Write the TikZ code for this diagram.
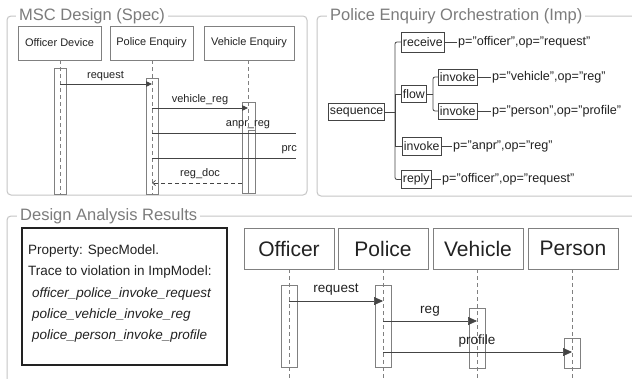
\documentclass[tikz,border=0pt]{standalone}
\usepackage{fontspec}
\setmainfont{Liberation Sans}
\usetikzlibrary{arrows.meta}
\definecolor{framec}{HTML}{C6C6C6}
\definecolor{titlec}{HTML}{7C7C7C}
\definecolor{linec}{HTML}{808080}
\definecolor{inkc}{HTML}{222222}
\definecolor{treec}{HTML}{444444}

\begin{document}
\begin{tikzpicture}[x=1pt,y=-1pt,
  frame/.style={draw=framec, line width=1pt, rounded corners=4pt},
  frametitle/.style={fill=white, text=titlec, anchor=west, inner xsep=3pt, inner ysep=1pt,
    font=\fontsize{16.5}{18}\selectfont},
  actor/.style={draw=linec, line width=0.8pt, text=inkc, inner sep=0pt},
  lifeline/.style={draw=linec, line width=0.7pt, dash pattern=on 4pt off 3pt},
  actbox/.style={draw=linec, line width=0.7pt, inner sep=0pt},
  msg/.style={draw=treec, line width=0.7pt},
  smalltip/.style={-{Triangle[length=6pt,width=5.5pt]}},
  bigtip/.style={-{Triangle[length=9pt,width=8pt]}},
  mlabel/.style={text=inkc, inner sep=0pt, font=\fontsize{11}{12}\selectfont},
  blabel/.style={text=inkc, inner sep=0pt, font=\fontsize{13.5}{15}\selectfont},
  tbox/.style={draw=treec, line width=0.9pt, text=inkc, inner xsep=1.5pt, inner ysep=0pt,
    minimum height=17pt, anchor=west, font=\fontsize{12.3}{13}\selectfont},
  tline/.style={draw=treec, line width=0.8pt},
  plabel/.style={text=inkc, anchor=west, inner xsep=1pt, inner ysep=0pt,
    font=\fontsize{12.6}{14}\selectfont},
  prop/.style={text=inkc, anchor=base west, inner sep=0pt, font=\fontsize{13.5}{15}\selectfont}
]
\useasboundingbox (0,0) rectangle (632,378);
\clip (0,0) rectangle (632,378);
\fill[white] (0,0) rectangle (632,378);

% ---------- MSC Design (Spec) ----------
\draw[frame] (7,16) rectangle (307,195);
\node[frametitle] (t1) at (16,16) {MSC Design (Spec)};

\node[actor, minimum width=83pt, minimum height=34pt, font=\fontsize{11}{12}\selectfont]
  (od) at (59.5,43) {Officer Device};
\node[actor, minimum width=83pt, minimum height=34pt, font=\fontsize{11}{12}\selectfont]
  (pe) at (151.5,43) {Police Enquiry};
\node[actor, minimum width=90pt, minimum height=34pt, font=\fontsize{11}{12}\selectfont]
  (ve) at (249,43) {Vehicle Enquiry};

\coordinate (odEnd) at (60,194);
\coordinate (peEnd) at (152,194);
\coordinate (veEnd) at (248,194);
\draw[lifeline] (od.south -| odEnd) -- (odEnd);
\draw[lifeline] (pe.south -| peEnd) -- (peEnd);
\draw[lifeline] (ve.south -| veEnd) -- (veEnd);

\draw[actbox] (54,68) rectangle (66,194);
\draw[actbox] (146,78) rectangle (158,194);
\draw[actbox] (242,102) rectangle (255,193);
\draw[actbox] (248.5,130) rectangle (255,193);

\coordinate (anprEnd) at (296,133);
\coordinate (prcEnd) at (296,158);

\draw[msg, smalltip] (odEnd |- 0,84) -- (peEnd |- 0,84);
\node[mlabel] (lreq) at (105.5,76) {request};
\draw[msg, smalltip] (peEnd |- 0,108) -- (veEnd |- 0,108);
\node[mlabel] (lvr) at (200,100) {vehicle\_reg};
\draw[msg] (peEnd |- anprEnd) -- (anprEnd);
\node[mlabel] (lanpr) at (248,125) {anpr\_reg};
\draw[msg] (peEnd |- prcEnd) -- (prcEnd);
\node[mlabel, anchor=east] (lprc) at (297,150) {prc};
\draw[msg, dash pattern=on 4pt off 3pt, -{Straight Barb[length=3pt,width=5pt]}]
  (242,183) -- (peEnd |- 0,183);
\node[mlabel] (lrd) at (200,174) {reg\_doc};

% ---------- Police Enquiry Orchestration (Imp) ----------
\draw[frame] (317,16) rectangle (645,196);
\node[frametitle] (t2) at (327,16) {Police Enquiry Orchestration (Imp)};

\node[tbox] (seq) at (328,112) {sequence};
\node[tbox, minimum height=20pt] (recv) at (401,42) {receive};
\node[tbox] (flow) at (401,94) {flow};
\node[tbox, minimum height=16pt] (invv) at (438,77) {invoke};
\node[tbox, minimum height=16pt] (invp) at (438,111) {invoke};
\node[tbox, minimum height=18pt] (inva) at (402,146) {invoke};
\node[tbox, minimum height=18pt] (reply) at (401,179.5) {reply};

\coordinate (trunk) at (395,112);
\draw[tline] (seq.east) -- (trunk);
\draw[tline, rounded corners=2pt] (trunk) |- (recv.west);
\draw[tline] (trunk) |- (flow.west);
\draw[tline] (trunk) |- (inva.west);
\draw[tline, rounded corners=2pt] (trunk) |- (reply.west);

\coordinate (ftrunk) at (433,94);
\draw[tline] (flow.east) -- (ftrunk);
\draw[tline, rounded corners=2pt] (ftrunk) |- (invv.west);
\draw[tline, rounded corners=2pt] (ftrunk) |- (invp.west);

\node[plabel] (precv) at (457,42) {p="officer",op="request"};
\node[plabel] (pinvv) at (491,77) {p="vehicle",op="reg"};
\node[plabel] (pinvp) at (491,111) {p="person",op="profile"};
\node[plabel] (pinva) at (452,146) {p="anpr",op="reg"};
\node[plabel] (preply) at (441,179.5) {p="officer",op="request"};
\draw[tline] (recv.east) -- (precv.west);
\draw[tline] (invv.east) -- (pinvv.west);
\draw[tline] (invp.east) -- (pinvp.west);
\draw[tline] (inva.east) -- (pinva.west);
\draw[tline] (reply.east) -- (preply.west);

% ---------- Design Analysis Results ----------
\draw[frame] (7,216) rectangle (645,395);
\node[frametitle] (t3) at (17,216) {Design Analysis Results};

\draw[draw=inkc, line width=1.4pt] (22,228) rectangle (227,365);
\node[prop] (pr1) at (28,254) {Property: SpecModel.};
\node[prop] (pr2) at (28,275.5) {Trace to violation in ImpModel:};
\node[prop] (pr3) at (32,297) {\itshape officer\_police\_invoke\_request};
\node[prop] (pr4) at (32,318) {\itshape police\_vehicle\_invoke\_reg};
\node[prop] (pr5) at (32,339) {\itshape police\_person\_invoke\_profile};

\node[actor, minimum width=90pt, minimum height=41pt, font=\fontsize{21}{23}\selectfont]
  (ofc) at (289,248.5) {Officer};
\node[actor, minimum width=90pt, minimum height=41pt, font=\fontsize{21}{23}\selectfont]
  (pol) at (383,248.5) {Police};
\node[actor, minimum width=90pt, minimum height=41pt, font=\fontsize{21}{23}\selectfont]
  (veh) at (478,248.5) {Vehicle};
\node[actor, minimum width=90pt, minimum height=41pt, font=\fontsize{21}{23}\selectfont]
  (per) at (573,248.5) {Person};

\coordinate (ofcEnd) at (289,378);
\coordinate (polEnd) at (383,378);
\coordinate (vehEnd) at (477,378);
\coordinate (perEnd) at (572,378);
\draw[lifeline] (ofc.south -| ofcEnd) -- (ofcEnd);
\draw[lifeline] (pol.south -| polEnd) -- (polEnd);
\draw[lifeline] (veh.south -| vehEnd) -- (vehEnd);
\draw[lifeline] (per.south -| perEnd) -- (perEnd);

\draw[actbox] (281,285) rectangle (297,367);
\draw[actbox] (375,285) rectangle (391,367);
\draw[actbox] (469,308) rectangle (485,368);
\draw[actbox] (564,338) rectangle (580,368);

\draw[msg, bigtip] (ofcEnd |- 0,301) -- (polEnd |- 0,301);
\node[blabel] (breq) at (336,290) {request};
\draw[msg, bigtip] (polEnd |- 0,321) -- (vehEnd |- 0,321);
\node[blabel] (breg) at (430,311) {reg};
\draw[msg, bigtip] (polEnd |- 0,352) -- (perEnd |- 0,352);
\node[blabel] (bprof) at (477,341) {profile};
\end{tikzpicture}
\end{document}
